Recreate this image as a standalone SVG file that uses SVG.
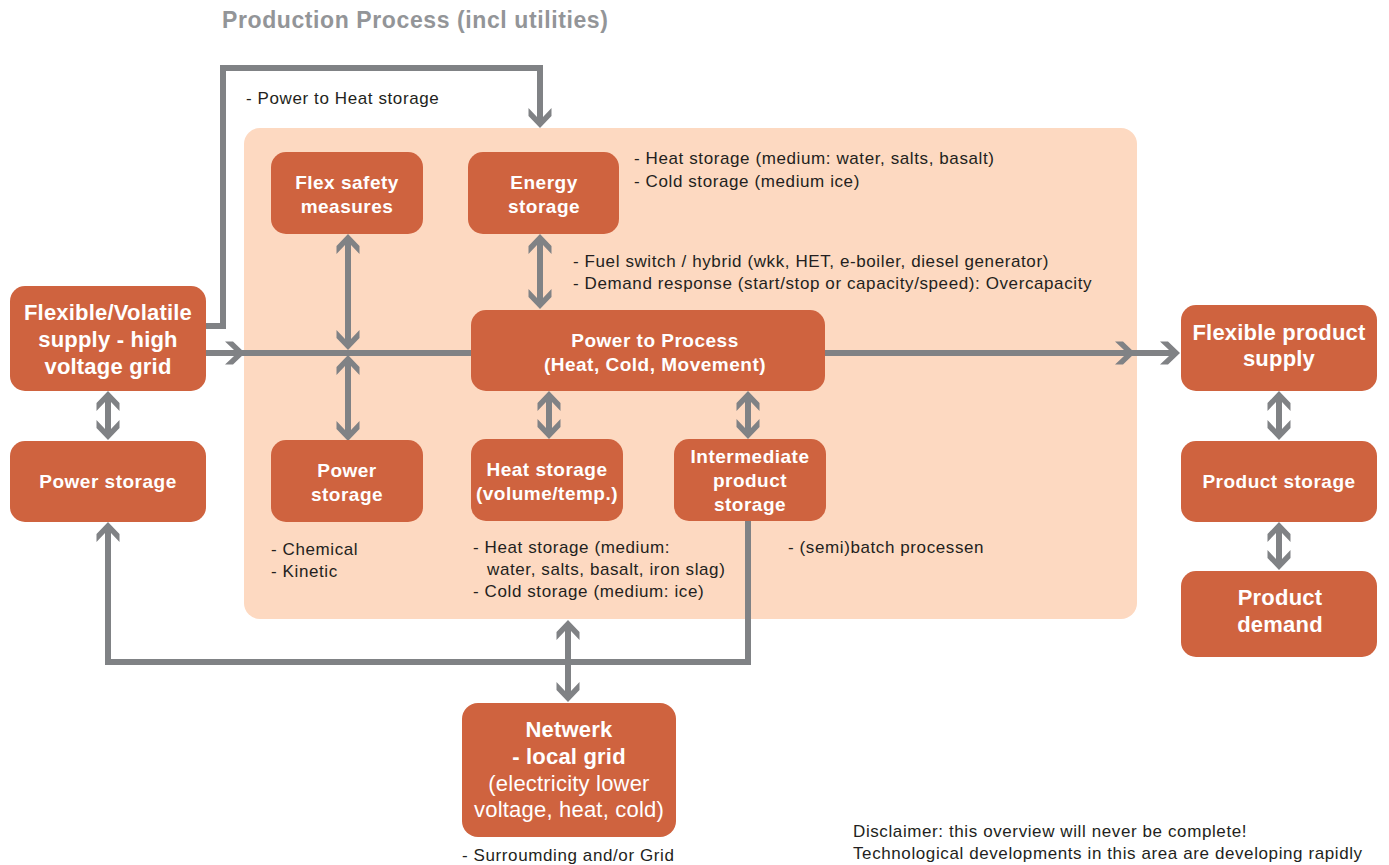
<svg xmlns="http://www.w3.org/2000/svg" width="1389" height="865" viewBox="0 0 1389 865">
  <style>
    .node { fill: #CF633F; }
    .panel { fill: #FDD9C1; }
    .lbl { font-family: "Liberation Sans", Arial, sans-serif; font-weight: bold; fill: #FFFFFF; text-anchor: middle; }
    .s18 { font-size: 19px; letter-spacing: 0.5px; }
    .s21 { font-size: 22px; letter-spacing: 0.2px; }
    .reg { font-weight: normal; }
    .note { font-family: "Liberation Sans", Arial, sans-serif; font-size: 17px; letter-spacing: 0.6px; fill: #231F20; }
    .title { font-family: "Liberation Sans", Arial, sans-serif; font-size: 23px; letter-spacing: 0.6px; font-weight: bold; fill: #939598; }
    .wire { fill: none; stroke: #808285; stroke-width: 6; }
    .arr { marker-end: url(#ah); }
    .dbl { marker-start: url(#ah); marker-end: url(#ah); }
  </style>
  <defs>
    <marker id="ah" viewBox="-20 -12 26 24" markerWidth="26" markerHeight="24" refX="0" refY="0" markerUnits="userSpaceOnUse" orient="auto-start-reverse">
      <path d="M6,0 L-6,-11.5 L-14,-11.5 L-5,-3 L-5,3 L-14,11.5 L-6,11.5 Z" fill="#808285"/>
    </marker>
  </defs>

  <rect width="1389" height="865" fill="#FFFFFF"/>

  <!-- process area -->
  <rect class="panel" x="244" y="128" width="893" height="491" rx="16"/>
  <text class="title" x="222" y="28">Production Process (incl utilities)</text>

  <!-- connectors -->
  <g id="connectors">
    <path class="wire arr" d="M206,326 H223 V68 H540 V122"/>
    <path class="wire arr" d="M206,353 H239"/>
    <path class="wire" d="M239,353 H471"/>
    <path class="wire arr" d="M825,353 H1129"/>
    <path class="wire arr" d="M1129,353 H1174"/>
    <path class="wire dbl" d="M348,240 V344"/>
    <path class="wire dbl" d="M348,361 V435"/>
    <path class="wire dbl" d="M540,240 V303"/>
    <path class="wire dbl" d="M549,397 V433"/>
    <path class="wire dbl" d="M748,397 V433"/>
    <path class="wire dbl" d="M108,397 V434"/>
    <path class="wire dbl" d="M1279,397 V434"/>
    <path class="wire dbl" d="M1279,528 V564"/>
    <path class="wire" d="M108,528 V662 H748 V520" marker-start="url(#ah)"/>
    <path class="wire dbl" d="M568,626 V696"/>
  </g>

  <!-- nodes -->
  <g id="supply-grid">
    <rect class="node" x="10" y="286" width="196" height="105" rx="15"/>
    <text class="lbl s21" x="108" y="320">Flexible/Volatile</text>
    <text class="lbl s21" x="108" y="347">supply - high</text>
    <text class="lbl s21" x="108" y="374">voltage grid</text>
  </g>
  <g id="power-storage-grid">
    <rect class="node" x="10" y="441" width="196" height="81" rx="15"/>
    <text class="lbl s18" x="108" y="488">Power storage</text>
  </g>
  <g id="flex-safety">
    <rect class="node" x="271" y="152" width="152" height="82" rx="15"/>
    <text class="lbl s18" x="347" y="189">Flex safety</text>
    <text class="lbl s18" x="347" y="213">measures</text>
  </g>
  <g id="energy-storage">
    <rect class="node" x="468" y="152" width="151" height="82" rx="15"/>
    <text class="lbl s18" x="544" y="189">Energy</text>
    <text class="lbl s18" x="544" y="213">storage</text>
  </g>
  <g id="power-to-process">
    <rect class="node" x="471" y="310" width="354" height="81" rx="15"/>
    <text class="lbl s18" x="655" y="347">Power to Process</text>
    <text class="lbl s18" x="655" y="371">(Heat, Cold, Movement)</text>
  </g>
  <g id="power-storage-process">
    <rect class="node" x="271" y="440" width="152" height="82" rx="15"/>
    <text class="lbl s18" x="347" y="477">Power</text>
    <text class="lbl s18" x="347" y="501">storage</text>
  </g>
  <g id="heat-storage">
    <rect class="node" x="471" y="439" width="152" height="82" rx="15"/>
    <text class="lbl s18" x="547" y="476">Heat storage</text>
    <text class="lbl s18" x="547" y="500">(volume/temp.)</text>
  </g>
  <g id="intermediate-storage">
    <rect class="node" x="674" y="439" width="152" height="82" rx="15"/>
    <text class="lbl s18" x="750" y="463">Intermediate</text>
    <text class="lbl s18" x="750" y="487">product</text>
    <text class="lbl s18" x="750" y="511">storage</text>
  </g>
  <g id="product-supply">
    <rect class="node" x="1181" y="305" width="196" height="86" rx="15"/>
    <text class="lbl s21" x="1279" y="340">Flexible product</text>
    <text class="lbl s21" x="1279" y="366">supply</text>
  </g>
  <g id="product-storage">
    <rect class="node" x="1181" y="441" width="196" height="81" rx="15"/>
    <text class="lbl s18" x="1279" y="488">Product storage</text>
  </g>
  <g id="product-demand">
    <rect class="node" x="1181" y="571" width="196" height="86" rx="15"/>
    <text class="lbl s21" x="1280" y="605">Product</text>
    <text class="lbl s21" x="1280" y="632">demand</text>
  </g>
  <g id="local-grid">
    <rect class="node" x="462" y="703" width="214" height="134" rx="16"/>
    <text class="lbl s21" x="569" y="737">Netwerk</text>
    <text class="lbl s21" x="569" y="764">- local grid</text>
    <text class="lbl s21 reg" x="569" y="791">(electricity lower</text>
    <text class="lbl s21 reg" x="569" y="817">voltage, heat, cold)</text>
  </g>

  <!-- annotations -->
  <g id="notes">
    <text class="note" x="246" y="104">- Power to Heat storage</text>
    <text class="note" x="634" y="164">- Heat storage (medium: water, salts, basalt)</text>
    <text class="note" x="634" y="187">- Cold storage (medium ice)</text>
    <text class="note" x="573" y="267">- Fuel switch / hybrid (wkk, HET, e-boiler, diesel generator)</text>
    <text class="note" x="573" y="289">- Demand response (start/stop or capacity/speed): Overcapacity</text>
    <text class="note" x="271" y="555">- Chemical</text>
    <text class="note" x="271" y="577">- Kinetic</text>
    <text class="note" x="473" y="553">- Heat storage (medium:</text>
    <text class="note" x="487" y="575">water, salts, basalt, iron slag)</text>
    <text class="note" x="473" y="597">- Cold storage (medium: ice)</text>
    <text class="note" x="788" y="553">- (semi)batch processen</text>
    <text class="note" x="462" y="861">- Surroumding and/or Grid</text>
    <text class="note" x="853" y="837">Disclaimer: this overview will never be complete!</text>
    <text class="note" x="853" y="859">Technological developments in this area are developing rapidly</text>
  </g>
</svg>
